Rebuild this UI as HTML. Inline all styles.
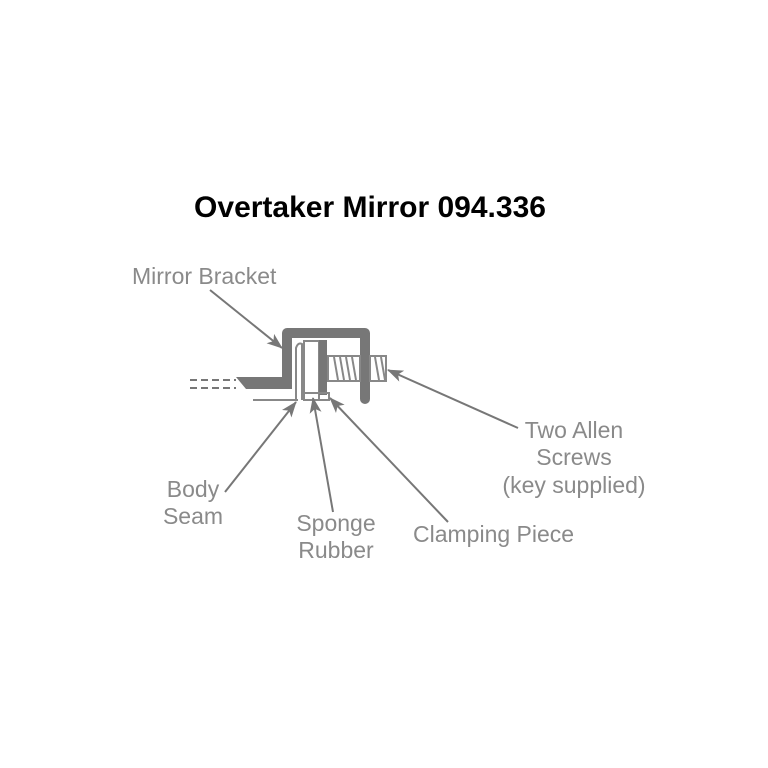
<!DOCTYPE html>
<html><head><style>
html,body{margin:0;padding:0;background:#fff;}
svg{display:block;}
text{font-family:"Liberation Sans",Arial,sans-serif;}
.l{font-size:23px;fill:#8a8a8a;}
</style></head><body>
<svg width="768" height="768" viewBox="0 0 768 768" xmlns="http://www.w3.org/2000/svg">
<defs>
<marker id="a" markerWidth="16" markerHeight="12" refX="15" refY="6" orient="auto" markerUnits="userSpaceOnUse">
<path d="M0,0 L16,6 L0,12 L4,6 Z" fill="#777"/>
</marker>
</defs>
<text x="370" y="217" text-anchor="middle" font-size="30" font-weight="bold" fill="#000">Overtaker Mirror 094.336</text>
<text x="132" y="284" class="l">Mirror Bracket</text>
<text x="193" y="497" class="l" text-anchor="middle">Body</text>
<text x="193" y="524" class="l" text-anchor="middle">Seam</text>
<text x="336" y="531" class="l" text-anchor="middle">Sponge</text>
<text x="336" y="558" class="l" text-anchor="middle">Rubber</text>
<text x="413" y="542" class="l">Clamping Piece</text>
<text x="574" y="438" class="l" text-anchor="middle">Two Allen</text>
<text x="574" y="465" class="l" text-anchor="middle">Screws</text>
<text x="574" y="493" class="l" text-anchor="middle">(key supplied)</text>

<line x1="190" y1="380" x2="236" y2="380" stroke="#777" stroke-width="2" stroke-dasharray="7,4"/>
<line x1="190" y1="388" x2="236" y2="388" stroke="#777" stroke-width="2" stroke-dasharray="7,4"/>
<path d="M287,384 L287,333 L365,333 L365,399" fill="none" stroke="#777" stroke-width="10" stroke-linejoin="round" stroke-linecap="round"/>
<path d="M236,377 L292,377 L292,389 L246,389 Z" fill="#777"/>
<line x1="253" y1="400" x2="298" y2="400" stroke="#888" stroke-width="2"/>
<path d="M296,400 L296,348 Q298,342 302,344 L302,400" fill="none" stroke="#888" stroke-width="2"/>
<rect x="304" y="341" width="15" height="59" fill="none" stroke="#888" stroke-width="2"/>
<rect x="319" y="340" width="8" height="55" fill="#777"/>
<rect x="304" y="393" width="25" height="7" fill="none" stroke="#888" stroke-width="2"/>
<rect x="328" y="356" width="32" height="25" fill="#fff" stroke="#888" stroke-width="2"/>
<rect x="370" y="356" width="16" height="25" fill="#fff" stroke="#888" stroke-width="2"/>
<g stroke="#888" stroke-width="2">
<line x1="334" y1="357" x2="338" y2="380"/><line x1="340" y1="357" x2="344" y2="380"/><line x1="346" y1="357" x2="350" y2="380"/><line x1="352" y1="357" x2="356" y2="380"/>
<line x1="375" y1="357" x2="379" y2="380"/><line x1="381" y1="357" x2="385" y2="380"/>
</g>
<g stroke="#777" stroke-width="2" fill="none" marker-end="url(#a)">
<line x1="210" y1="290" x2="282" y2="348"/>
<line x1="518" y1="428" x2="388" y2="370"/>
<line x1="225" y1="492" x2="296" y2="402"/>
<line x1="333" y1="512" x2="313" y2="398"/>
<line x1="448" y1="522" x2="330" y2="398"/>
</g>
</svg>
</body></html>
